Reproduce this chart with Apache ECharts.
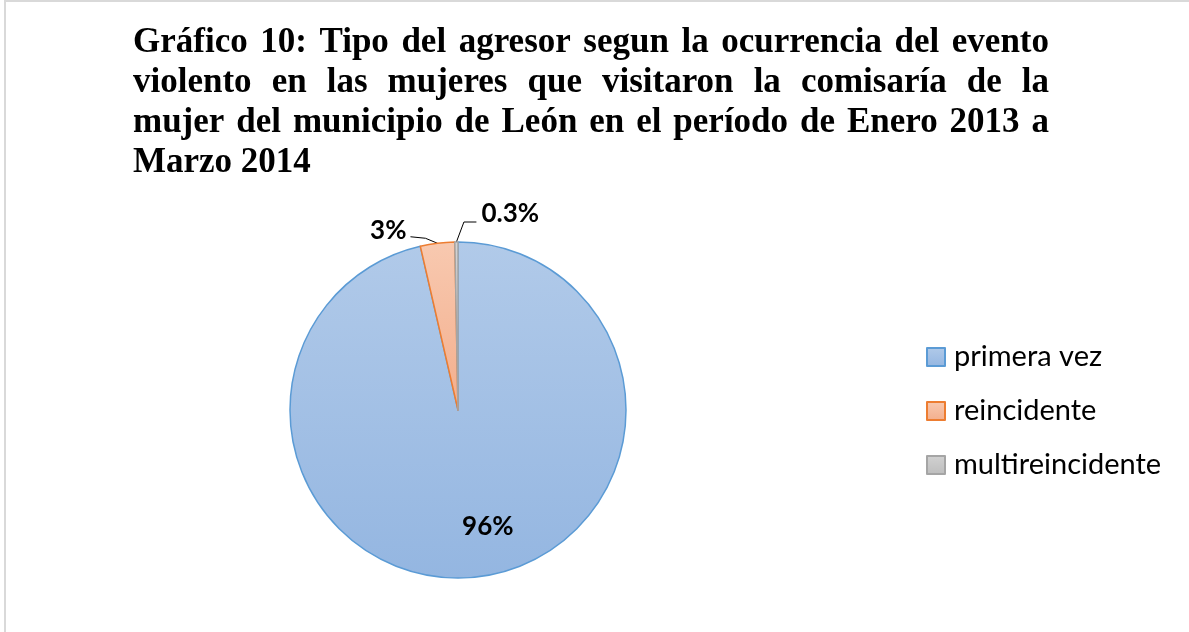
<!DOCTYPE html>
<html>
<head>
<meta charset="utf-8">
<script src="https://cdn.jsdelivr.net/npm/echarts@6/dist/echarts.min.js"></script>
<style>
  html, body { margin: 0; padding: 0; background: #fff; }
  #main { width: 1189px; height: 632px; }
  #frame { position: absolute; left: 4px; top: 0; width: 1185px; height: 632px;
           border-left: 2px solid #d9d9d9; border-top: 2px solid #d9d9d9; box-sizing: border-box; pointer-events: none; }
</style>
</head>
<body>
<div id="main"></div>
<div id="frame"></div>
<script>
// data
var categories = ['primera vez', 'reincidente', 'multireincidente'];
var values = [96.4, 3.3, 0.3];
var labels = ['96%', '3%', '0.3%'];

var titleLines = [
    'Gráfico 10: Tipo del agresor segun la ocurrencia del evento',
    'violento en las mujeres que visitaron la comisaría de la',
    'mujer del municipio de León en el período de Enero 2013 a',
    'Marzo 2014'
];

var titleFont = 'bold 35px "Liberation Serif"';
var titleWidth = 916;

// justify title lines (all but the last) by widening the gaps
var ctx = document.createElement('canvas').getContext('2d');
ctx.font = titleFont;
var rich = {};
var titleText = titleLines.map(function (line, i) {
    var words = line.split(' ');
    if (i === titleLines.length - 1) return line;
    var total = 0;
    words.forEach(function (w) { total += ctx.measureText(w).width; });
    var gap = (titleWidth - total) / (words.length - 1);
    rich['g' + i] = {
        width: gap,
        fontFamily: 'Liberation Serif', fontWeight: 'bold', fontSize: 35, lineHeight: 40
    };
    return words.join('{g' + i + '| }');
}).join('\n');

var colors = [
    { top: '#b1cae9', bottom: '#94b6e1', border: '#5b9bd5' },
    { top: '#f8c9b0', bottom: '#f3ae8c', border: '#ed7d31' },
    { top: '#d2d2d2', bottom: '#bdbdbd', border: '#a5a5a5' }
];

var myChart = echarts.init(document.getElementById('main'));

var option = {
    backgroundColor: '#fff',
    animation: false,
    title: {
        text: titleText,
        left: 133,
        top: 23,
        padding: 0,
        textStyle: {
            fontFamily: 'Liberation Serif',
            fontWeight: 'bold',
            fontSize: 35,
            lineHeight: 40,
            color: '#000',
            rich: rich
        }
    },
    legend: {
        orient: 'vertical',
        left: 926,
        top: 342,
        padding: 0,
        itemWidth: 18,
        itemHeight: 18,
        itemGap: 24,
        icon: 'rect',
        data: categories,
        textStyle: {
            fontFamily: 'Lato',
            fontSize: 29,
            lineHeight: 30,
            color: '#000',
            padding: [0, 0, 0, 4]
        }
    },
    series: [{
        type: 'pie',
        center: [458, 410],
        radius: 168,
        startAngle: 90,
        clockwise: true,
        label: {
            show: true,
            position: 'outside',
            fontFamily: 'Lato',
            fontWeight: 'bold',
            fontSize: 26,
            color: '#000',
            formatter: function (p) { return labels[p.dataIndex]; }
        },
        labelLine: {
            show: true,
            length: 10,
            length2: 10,
            lineStyle: { color: '#000', width: 1 }
        },
        labelLayout: function (p) {
            if (p.dataIndex === 0) return { dx: 20, dy: 30 };
            var pts = p.labelLinePoints;
            if (!pts) return {};
            var e = pts[0];
            if (p.dataIndex === 1) {
                return {
                    x: e[0] - 31, y: e[1] - 13, align: 'right', verticalAlign: 'middle',
                    labelLinePoints: [e, [e[0] - 12, e[1] - 5], [e[0] - 27, e[1] - 6.5]]
                };
            }
            return {
                x: e[0] + 25, y: e[1] - 28, align: 'left', verticalAlign: 'middle',
                labelLinePoints: [e, [e[0] + 7.5, e[1] - 20], [e[0] + 20, e[1] - 20]]
            };
        },
        data: categories.map(function (name, i) {
            var item = {
                name: name,
                value: values[i],
                itemStyle: {
                    color: new echarts.graphic.LinearGradient(0, 0, 0, 1, [
                        { offset: 0, color: colors[i].top },
                        { offset: 1, color: colors[i].bottom }
                    ]),
                    borderColor: colors[i].border,
                    borderWidth: 1.5
                }
            };
            if (i === 0) {
                item.label = { position: 'inside' };
                item.labelLine = { show: false };
            }
            return item;
        })
    }]
};

myChart.setOption(option);
</script>
</body>
</html>
